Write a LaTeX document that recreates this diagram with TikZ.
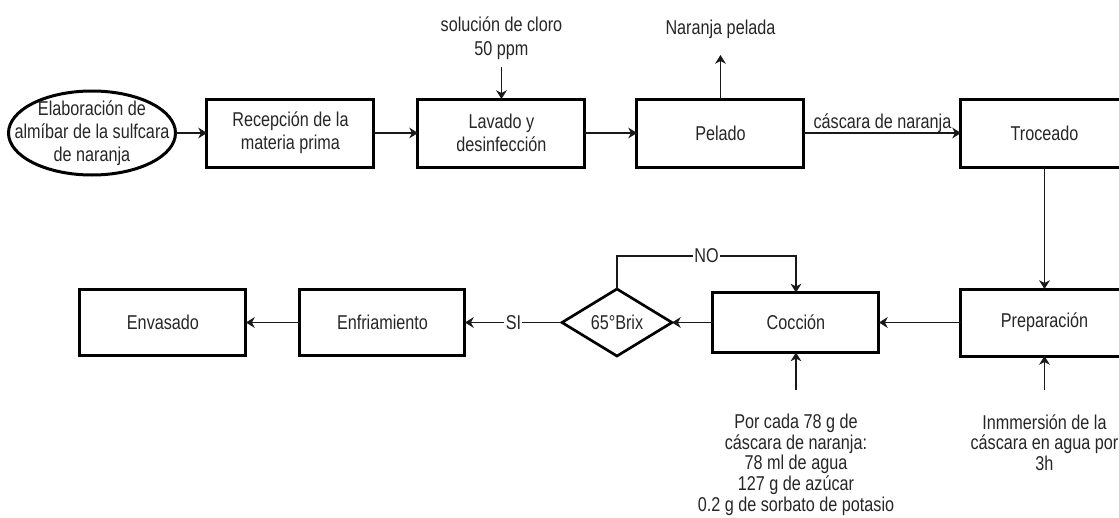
\documentclass[tikz,border=0pt]{standalone}
\usepackage{fontspec}
\setmainfont{Liberation Sans}[FakeStretch=0.81]
\usetikzlibrary{positioning,shapes.geometric,arrows.meta}

\begin{document}
\begin{tikzpicture}[
    font=\fontsize{15pt}{17pt}\selectfont,
    every node/.style={text=black!85},
    proc/.style={draw=black,line width=2.25pt,minimum width=125.25pt,minimum height=51pt,
      inner sep=0pt,outer sep=0pt,align=center},
    flow/.style={-{Stealth[length=6.5pt,width=8pt,inset=2pt]},line width=1.2pt,draw=black!90},
    tag/.style={fill=white,inner sep=1pt},
    note/.style={inner sep=0pt,align=center}
  ]

  % Frame
  \useasboundingbox (0,0) rectangle (839.25pt,-387.75pt);
  \clip (0,0) rectangle (839.25pt,-387.75pt);

  % Upper row
  \node [ellipse,draw,line width=2.25pt,minimum width=125.25pt,minimum height=63pt,
    inner sep=0pt,outer sep=0pt,
    label={[note,font=\fontsize{15pt}{17.25pt}\selectfont]center:Elaboración de\\almíbar de la sulfcara\\de naranja}]
    (elab) at (69pt,-99.75pt) {};
  \node [proc,right=23.6pt of elab] (recep) {Recepción de la\\materia prima};
  \node [proc,right=33pt of recep] (lavado) {Lavado y\\desinfección};
  \node [proc,right=39pt of lavado] (pelado) {Pelado};
  \node [proc,right=117.75pt of pelado] (troc) {Troceado};

  % Lower row
  \node [proc,below=91.5pt of troc,minimum height=50.25pt] (prep) {Preparación};
  \node [proc,left=61.5pt of prep,minimum width=124.5pt,minimum height=45pt] (coccion) {Cocción};
  \node [diamond,draw,line width=2pt,aspect=1.6,minimum width=82.5pt,minimum height=50.25pt,
    inner sep=0pt,outer sep=0pt,left=30.75pt of coccion] (brix) {65°Brix};
  \node [proc,left=72.75pt of brix,minimum width=123.75pt,minimum height=49.5pt] (enfri) {Enfriamiento};
  \node [proc,left=40.5pt of enfri,minimum width=124.5pt,minimum height=49.5pt] (envas) {Envasado};

  % Chlorine solution
  \coordinate [above=24pt of lavado] (clorin);
  \node [note,above=5.25pt of clorin,font=\fontsize{15pt}{18pt}\selectfont] (cloro) {solución de cloro\\50 ppm};
  \draw [flow] (clorin) -- (lavado);

  % Peeled orange
  \coordinate [above=33pt of pelado] (pelout);
  \node [note,above=12pt of pelout] (naranja) {Naranja pelada};
  \draw [flow] (pelado) -- (pelout);

  % Main line
  \draw [flow] (elab) -- (recep);
  \draw [flow] (recep) -- (lavado);
  \draw [flow] (lavado) -- (pelado);
  \draw [flow] (pelado) -- node [above,inner sep=0pt] {cáscara de naranja} (troc);
  \draw [flow] (troc) -- (prep);
  \draw [flow] (prep) -- (coccion);
  \draw [flow] (coccion) -- (brix);
  \draw [flow] (brix) -- node [tag] {SI} (enfri);
  \draw [flow] (enfri) -- (envas);
  \draw [flow] (brix.north) -- ++(0,24.75pt) -| node [tag,pos=0.25] {NO} (coccion.north);

  % Soaking
  \coordinate [below=25.5pt of prep] (prepin);
  \node [note,below=18pt of prepin,font=\fontsize{15pt}{15.6pt}\selectfont] (inmer)
    {Inmmersión de la\\cáscara en agua por\\3h};
  \draw [flow] (prepin) -- (prep);

  % Syrup recipe
  \coordinate [below=27.75pt of coccion] (cocin);
  \node [note,below=18pt of cocin,font=\fontsize{15pt}{15.6pt}\selectfont] (receta)
    {Por cada 78 g de\\cáscara de naranja:\\78 ml de agua\\127 g de azúcar\\0.2 g de sorbato de potasio};
  \draw [flow] (cocin) -- (coccion);

\end{tikzpicture}
\end{document}
